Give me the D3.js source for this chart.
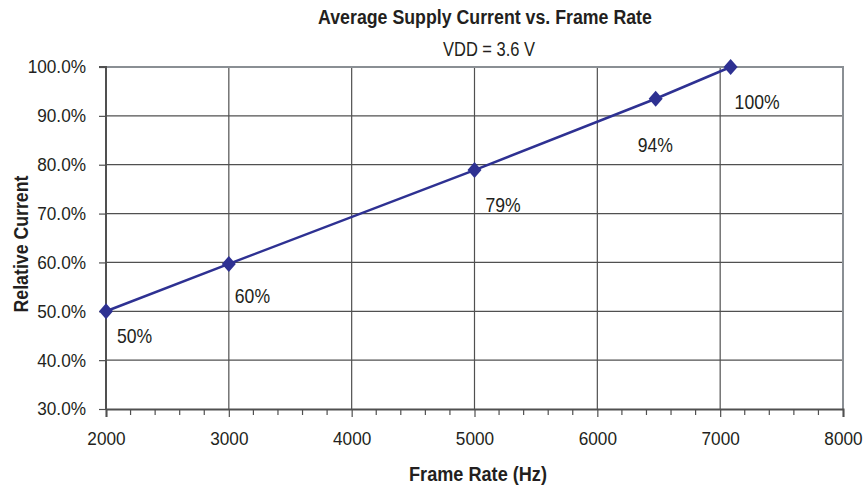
<!DOCTYPE html>
<html>
<head>
<meta charset="utf-8">
<script src="https://cdn.jsdelivr.net/npm/d3@7"></script>
<style>
  html, body { margin: 0; padding: 0; background: #fff; }
  svg { display: block; }
  text { font-family: "Liberation Sans", Arial, sans-serif; fill: #231f20; }
</style>
</head>
<body>
<svg id="chart" width="863" height="486"></svg>
<script>
// ---- data ----
const frameRates = [2000, 3000, 5000, 6475, 7085];
const relativeCurrent = [50, 59.7, 78.9, 93.5, 100];
const pointLabels = ["50%", "60%", "79%", "94%", "100%"];
const xTicks = [2000, 3000, 4000, 5000, 6000, 7000, 8000];
const yTicks = [30, 40, 50, 60, 70, 80, 90, 100];
const labelOffsets = [[11, 32], [6, 39], [11, 42], [-18, 53], [4, 42]];

const W = 863, H = 486;
const margin = { left: 106, right: 20, top: 67, bottom: 77 };
const svg = d3.select("#chart");
const x = d3.scaleLinear().domain([2000, 8000]).range([margin.left, W - margin.right]);
const y = d3.scaleLinear().domain([30, 100]).range([H - margin.bottom, margin.top]);

// condensed text helper: horizontal squeeze about the anchor point
function squeeze(sel, X, s) {
  sel.attr("x", X / s).attr("transform", `scale(${s},1)`);
}
function fitText(sel, X, width) {
  const len = sel.node().getComputedTextLength();
  squeeze(sel, X, width / len);
}

const gridColor = "#505050";
// grid
const g = svg.append("g");
g.selectAll(".vg").data(xTicks.slice(1, -1)).enter().append("line")
  .attr("x1", d => x(d)).attr("x2", d => x(d))
  .attr("y1", y(30)).attr("y2", y(100))
  .attr("stroke", gridColor).attr("stroke-width", 1.2);
g.selectAll(".hg").data(yTicks.slice(1, -1)).enter().append("line")
  .attr("x1", x(2000)).attr("x2", x(8000))
  .attr("y1", d => y(d)).attr("y2", d => y(d))
  .attr("stroke", gridColor).attr("stroke-width", 1.2);
// plot border (top/right gray)
g.append("line").attr("x1", x(2000)).attr("x2", x(8000) + 1).attr("y1", y(100)).attr("y2", y(100))
  .attr("stroke", "#8a8f94").attr("stroke-width", 2);
g.append("line").attr("x1", x(8000)).attr("x2", x(8000)).attr("y1", y(100)).attr("y2", y(30))
  .attr("stroke", "#8a8f94").attr("stroke-width", 2);

// x axis
const xAxis = svg.append("g").attr("transform", `translate(0,${y(30)})`)
  .call(d3.axisBottom(x).tickValues(xTicks).tickFormat(d3.format("d")).tickSize(8).tickPadding(15));
const minor = d3.range(2000, 8001, 200).filter(v => v % 1000 !== 0);
svg.append("g").selectAll("line").data(minor).enter().append("line")
  .attr("x1", d => x(d)).attr("x2", d => x(d))
  .attr("y1", y(30)).attr("y2", y(30) + 6)
  .attr("stroke", gridColor).attr("stroke-width", 1.2);

// y axis
const yAxis = svg.append("g").attr("transform", `translate(${x(2000)},0)`)
  .call(d3.axisLeft(y).tickValues(yTicks).tickFormat(d => d.toFixed(1) + "%").tickSize(7).tickPadding(13));

const tickScale = 0.93;
[xAxis, yAxis].forEach(a => {
  a.select(".domain").attr("stroke", gridColor).attr("stroke-width", 2);
  a.selectAll(".tick line").attr("stroke", gridColor).attr("stroke-width", 1.2);
  a.selectAll(".tick text").attr("font-size", 18.5).attr("fill", "#231f20")
    .style("font-family", '"Liberation Sans", Arial, sans-serif');
});
xAxis.selectAll(".tick text").attr("transform", `scale(${tickScale},1)`);
yAxis.selectAll(".tick text").each(function () {
  const t = d3.select(this);
  squeeze(t, +t.attr("x"), tickScale);
});
yAxis.select(".domain").attr("d", `M-7,${y(100)}H0V${y(30)}`);

// series
const data = frameRates.map((f, i) => ({ x: f, y: relativeCurrent[i], label: pointLabels[i], off: labelOffsets[i] }));
svg.append("path").datum(data)
  .attr("d", d3.line().x(d => x(d.x)).y(d => y(d.y)))
  .attr("fill", "none").attr("stroke", "#2e3192").attr("stroke-width", 2.5);
svg.selectAll(".mk").data(data).enter().append("path")
  .attr("transform", d => `translate(${x(d.x)},${y(d.y)})`)
  .attr("d", "M0,-8L7,0L0,8L-7,0Z")
  .attr("fill", "#2e3192");
svg.selectAll(".lbl").data(data).enter().append("text")
  .attr("y", d => y(d.y) + d.off[1])
  .attr("font-size", 20).text(d => d.label)
  .each(function (d) { squeeze(d3.select(this), x(d.x) + d.off[0], 0.88); });

// titles
const t1 = svg.append("text").attr("y", 24).attr("text-anchor", "middle")
  .attr("font-size", 19.5).attr("font-weight", "bold").text("Average Supply Current vs. Frame Rate");
fitText(t1, 485, 334);
const t2 = svg.append("text").attr("y", 56).attr("text-anchor", "middle")
  .attr("font-size", 20).text("VDD = 3.6 V");
fitText(t2, 489, 92);
const t3 = svg.append("text").attr("y", 481).attr("text-anchor", "middle")
  .attr("font-size", 20).attr("font-weight", "bold").text("Frame Rate (Hz)");
fitText(t3, 478, 138);
const t4 = svg.append("text").attr("text-anchor", "middle")
  .attr("font-size", 20).attr("font-weight", "bold").text("Relative Current");
const s4 = 137 / t4.node().getComputedTextLength();
t4.attr("x", 0).attr("y", 0).attr("transform", `translate(28,244) rotate(-90) scale(${s4},1)`);
</script>
</body>
</html>
